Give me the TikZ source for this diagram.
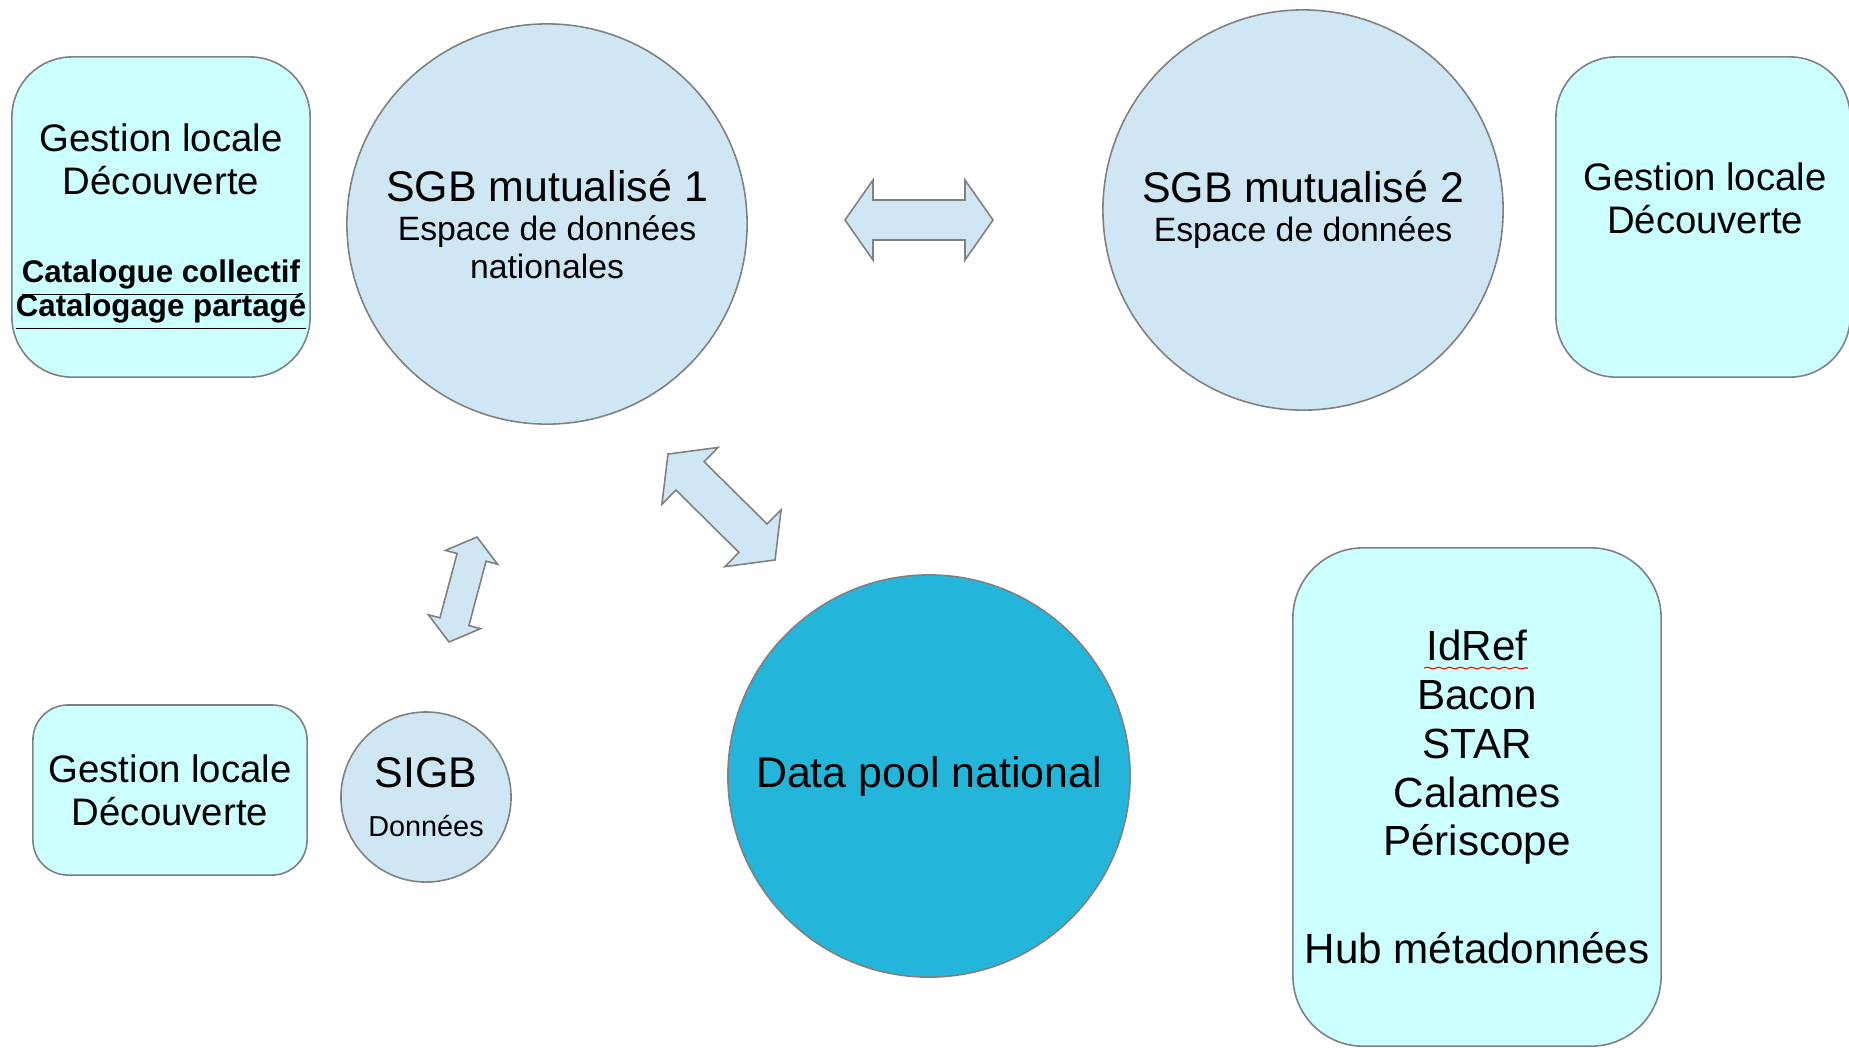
\documentclass[tikz,border=0pt]{standalone}
\usepackage{fontspec}
\setmainfont{Liberation Sans}
\usetikzlibrary{positioning,decorations.pathmorphing}

\definecolor{boxcyan}{RGB}{204,255,255}
\definecolor{circblue}{RGB}{207,231,245}
\definecolor{poolblue}{RGB}{35,182,218}
\definecolor{edgegray}{RGB}{128,128,128}

\newcommand{\glfont}{\fontsize{10.9}{12.2}\selectfont}
\newcommand{\catfont}{\fontsize{8.9}{9.7}\selectfont\bfseries}
\newcommand{\titletxtfont}{\fontsize{12.2}{14}\selectfont}
\newcommand{\subtxtfont}{\fontsize{9.6}{10.8}\selectfont}

% center, angle, half length, head length, head half width, shaft half width
\newcommand{\dblarrow}[6]{%
  \draw[arrow_style, shift={#1}, rotate=#2]
    (-#3,0) -- (-#3+#4,#5) -- (-#3+#4,#6) -- (#3-#4,#6) -- (#3-#4,#5) -- (#3,0)
    -- (#3-#4,-#5) -- (#3-#4,-#6) -- (-#3+#4,-#6) -- (-#3+#4,-#5) -- cycle;}

\begin{document}
\begin{tikzpicture}[x=0.01cm, y=-0.01cm, line width=0.45pt,
        local_box/.style={draw=edgegray, fill=boxcyan, rounded corners=0.6cm, inner sep=0pt},
        data_circle/.style={circle, draw=edgegray, fill=circblue, inner sep=0pt, align=center},
        pool_circle/.style={data_circle, fill=poolblue},
        arrow_style/.style={draw=edgegray, fill=circblue, line join=miter},
        label_text/.style={align=center, inner sep=0pt, font=\glfont}]
        \useasboundingbox (0,0) rectangle (1849,1047);

        % top row
        \node[local_box, minimum width=2.98cm, minimum height=3.2cm] (gl1) at (161,217) {};
        \node[label_text] (gl1txt) at (161,227) {Gestion locale\\Découverte\\[13pt]
          {\catfont\underline{Catalogue collectif}}\\[-2.5pt]{\catfont\underline{Catalogage partagé}}};
        \node[data_circle, minimum size=4cm, font=\subtxtfont] (sgb1) at (547,224)
          {{\titletxtfont SGB mutualisé 1}\\[0.3pt]Espace de données\\nationales};
        \node[data_circle, minimum size=4cm, font=\subtxtfont] (sgb2) at (1303,210)
          {{\titletxtfont SGB mutualisé 2}\\[0.3pt]Espace de données};
        \node[local_box, minimum width=2.94cm, minimum height=3.2cm] (gl2) at (1703,217) {};
        \node[label_text] (gl2txt) at (1705,198) {Gestion locale\\Découverte};

        % bottom row
        \node[local_box, rounded corners=0.35cm, minimum width=2.74cm, minimum height=1.7cm,
          font=\glfont, align=center] (gl3) at (170,790) {Gestion locale\\Découverte};
        \node[data_circle, minimum size=1.7cm, font=\fontsize{8.2}{13.9}\selectfont] (sigb) at (426,797)
          {{\titletxtfont SIGB}\\Données};
        \node[pool_circle, minimum size=4.02cm, font=\titletxtfont] (pool) at (929,776) {Data pool national};
        \node[local_box, rounded corners=0.7cm, minimum width=3.68cm, minimum height=4.98cm,
          font=\fontsize{12}{13.9}\selectfont, align=center] (hub) at (1477,797)
          {IdRef\\Bacon\\STAR\\Calames\\Périscope\\[16.8pt]Hub métadonnées};
        \draw[red, line width=0.3pt, decorate, decoration={snake, amplitude=0.25pt, segment length=1.1mm}]
          (1424,668) -- (1528,668);

        % exchange arrows
        \dblarrow{(919,220)}{0}{74}{28}{40}{20}
        \dblarrow{(721.5,507)}{-44.7}{75.3}{31}{40}{20}
        \dblarrow{(463,589.5)}{75.1}{54.3}{21}{27}{15}
\end{tikzpicture}
\end{document}
